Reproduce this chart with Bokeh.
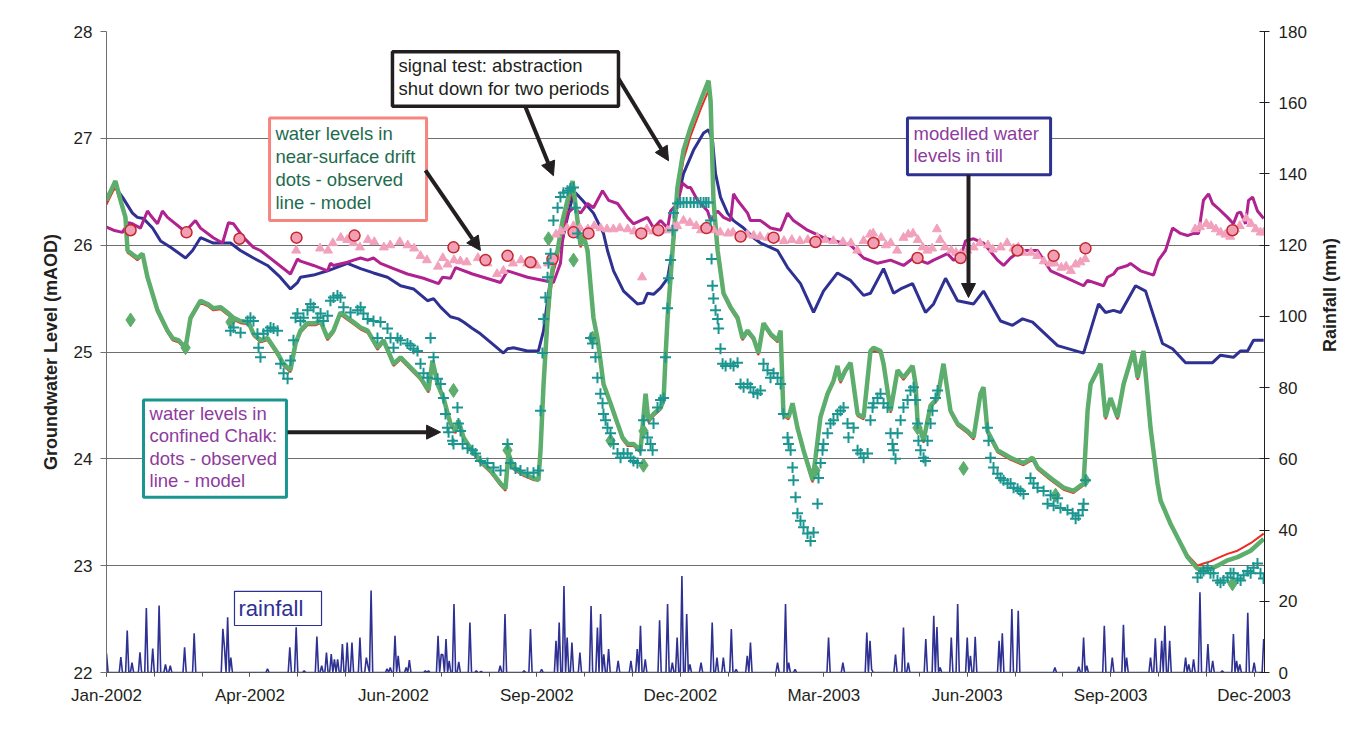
import numpy as np
from bokeh.plotting import figure
from bokeh.models import Range1d, LinearAxis, FixedTicker, Arrow, NormalHead
from bokeh.embed import file_html
from bokeh.resources import INLINE
from bokeh.core.properties import value

# ---------------- data (day = days since 1 Jan 2002) ----------------
X_TICK_LABELS = ["Jan-2002", "Apr-2002", "Jun-2002", "Sep-2002", "Dec-2002",
                 "Mar-2003", "Jun-2003", "Sep-2003", "Dec-2003"]
LEFT_TICKS = [22, 23, 24, 25, 26, 27, 28]
RIGHT_TICKS = [0, 20, 40, 60, 80, 100, 120, 140, 160, 180]

# modelled water levels in till (blue)
TILL_MODEL = [(0,26.46),(5.6,26.54),(10,26.45),(16.3,26.30),(19.4,26.26),(23.2,26.25),(28.9,26.16),(33.9,26.04),
    (40.2,25.98),(49.6,25.88),(54,25.95),(59,26.07),(67,26.02),(77.8,26.02),(84,25.95),(92.2,25.88),(101,25.81),
    (109,25.70),(115.4,25.59),(119.8,25.65),(121.7,25.70),(129.9,25.72),(138.7,25.76),(142.4,25.78),(151.2,25.83),
    (159.4,25.78),(167.5,25.74),(176.3,25.70),(184.5,25.62),(192.6,25.59),(201.4,25.48),(205.2,25.50),(209.6,25.42),
    (215.8,25.33),(220.8,25.31),(224,25.28),(229.6,25.22),(234.6,25.17),(241,25.09),(249,24.99),(251.6,25.03),
    (255.3,25.04),(264.1,25.01),(271,25.01),(274.2,25.20),(277.3,25.55),(280.4,25.83),(283,25.95),(284.8,25.98),
    (289.2,26.26),(292.4,26.45),(294.2,26.49),(298.6,26.42),(305.5,26.30),(311.8,26.11),(314.3,25.95),(318.1,25.76),
    (324.4,25.57),(333.1,25.45),(336.9,25.46),(339.4,25.55),(343.2,25.54),(347.6,25.60),(352,25.69),(353.9,25.85),
    (355.1,25.95),(358.2,26.42),(362,26.67),(368.3,26.89),(374.6,27.05),(377.7,27.08),(380.2,26.98),(382.1,26.67),
    (385.2,26.45),(389.6,26.30),(393.4,26.23),(399.7,26.16),(405.9,26.07),(410.3,26.02),(421,25.95),(427.3,25.79),
    (435.4,25.64),(443.6,25.37),(449.8,25.57),(458.6,25.74),(466.8,25.67),(475,25.53),(479.3,25.55),(487.5,25.78),
    (493.8,25.55),(498.2,25.59),(505.7,25.64),(513.8,25.37),(518.9,25.45),(526.4,25.69),(533.9,25.48),(544,25.45),
    (550.2,25.57),(560.9,25.29),(568.4,25.25),(574.7,25.31),(581,25.28),(596.7,25.06),(613,24.99),(622.4,25.45),
    (626.8,25.37),(631.8,25.39),(636.2,25.37),(645.6,25.62),(651.9,25.57),(662.5,25.08),(668.8,25.03),(677,24.90),
    (693.9,24.90),(698.9,24.97),(707,24.95),(711.5,25.01),(715.9,25.01),(719.6,25.11),(726,25.11)]

# modelled water levels in near-surface drift (magenta)
DRIFT_MODEL = [(0,26.17),(4.4,26.14),(10,26.12),(13.8,26.21),(16.3,26.20),(21.3,26.16),(25.7,26.32),(27.6,26.28),
    (32,26.20),(35.1,26.32),(38.3,26.26),(48.3,26.14),(51.4,26.16),(55.8,26.23),(59,26.16),(67,26.07),(72.8,26.02),
    (76.5,26.21),(79.7,26.20),(86,26.07),(92.2,25.98),(96.6,25.95),(115.4,25.73),(119.8,25.87),(121.7,25.85),
    (129.9,25.81),(138.7,25.76),(140.5,25.83),(142.4,25.81),(151.2,25.84),(155,25.86),(159.4,25.88),(163.8,25.86),
    (167.5,25.88),(171.9,25.83),(180.1,25.78),(188.8,25.73),(198.9,25.69),(208.3,25.64),(210.8,25.70),(215.8,25.69),
    (219,25.79),(229.6,25.73),(247.2,25.65),(251.6,25.76),(264.1,25.70),(280.4,25.65),(284.8,25.83),(286.1,26.04),
    (289.2,26.30),(293,26.35),(297.4,26.30),(301.8,26.39),(305.5,26.35),(311.2,26.51),(315,26.42),(320.6,26.39),
    (326.9,26.26),(330.6,26.20),(335,26.23),(339.4,26.26),(343.2,26.16),(347.6,26.23),(352,26.16),(353.9,26.32),
    (358.2,26.39),(361.4,26.58),(364.5,26.54),(366.4,26.54),(370.8,26.42),(377.1,26.32),(379,26.23),(383.4,26.32),
    (387.1,26.26),(391.5,26.23),(393.4,26.48),(395.9,26.42),(402.2,26.30),(404,26.23),(410.3,26.23),(416.6,26.16),
    (422.9,26.14),(427.3,26.30),(431,26.23),(439.8,26.14),(449.8,26.07),(466.8,26.00),(475,25.88),(483.7,25.83),
    (491.9,25.86),(500,25.81),(506.3,25.88),(515.1,25.83),(518.9,25.86),(527.6,25.92),(531.4,25.86),(535.8,25.88),
    (538.9,26.04),(544,26.06),(550.2,26.02),(559,25.86),(562.8,25.81),(567.2,25.88),(573.4,25.95),(584.1,25.95),
    (592.3,25.76),(602.9,25.69),(613,25.62),(615.5,25.67),(625.5,25.62),(628,25.70),(631.8,25.73),(634.3,25.78),
    (640.6,25.81),(642.4,25.83),(648.7,25.76),(656.9,25.72),(660,25.86),(664.4,25.95),(668.8,26.16),(673.8,26.11),
    (678.2,26.09),(682,26.11),(685.1,26.11),(688.2,26.42),(691.4,26.48),(693.9,26.39),(697,26.35),(703.3,26.26),
    (707,26.20),(709.6,26.30),(711.5,26.31),(714.6,26.20),(716.5,26.42),(719,26.45),(722.1,26.32),(726,26.25)]

# observed drift levels, dense (pink triangles)
DRIFT_OBS_DENSE = [(119,25.95),(134,25.97),(139,25.95),(142,26.02),(147,26.07),(151,26.05),(155,26.02),(159,25.98),
    (164,26.05),(168,26.03),(174,25.98),(178,26.00),(184,26.03),(189,26.00),(193,25.97),(197,25.90),(201,25.86),
    (208,25.80),(211,25.88),(214,25.82),(218,25.86),(222,25.85),(226,25.84),(233,25.88),(239,25.83),(245,25.73),
    (249,25.76),(255,25.83),(260,25.86),(264,25.83),(270,25.81),(277,25.83),(282,26.10),(285,26.13),(289,26.16),
    (293,26.18),(297,26.16),(302,26.15),(306,26.18),(310,26.16),(314,26.15),(318,26.15),(322,26.16),(327,26.15),
    (331,26.13),(335,26.11),(336,25.70),(339,26.15),(343,26.13),(348,26.14),(352,26.14),(356,26.17),(358,26.18),
    (362,26.23),(366,26.21),(370,26.18),(373,26.14),(377,26.15),(381,26.14),(385,26.12),(390,26.11),(393,26.12),
    (398,26.09),(402,26.10),(406,26.09),(410,26.08),(415,26.07),(420,26.06),(425,26.04),(430,26.05),(435,26.04),
    (440,26.05),(446,26.07),(451,26.05),(456,26.04),(462,26.03),(467,26.02),(471,25.95),(475,26.04),(479,26.10),
    (481,26.11),(486,26.07),(489,26.00),(492,26.02),(496,25.95),(500,26.07),(503,26.10),(506,26.11),(509,26.05),
    (512,25.98),(515,25.95),(518,25.97),(521,26.15),(523,26.05),(526,25.98),(530,25.95),(533,25.93),(536,25.92),
    (540,25.95),(544,25.98),(548,26.02),(553,26.00),(556,25.96),(561,25.98),(565,26.02),(569,25.97),(572,25.98),
    (575,25.93),(580,25.93),(584,25.90),(588,25.85),(592,25.83),(595,25.83),(599,25.79),(602,25.80),(605,25.76),
    (608,25.82),(611,25.84),(614,25.87),(683,26.15),(686,26.17),(690,26.20),(693,26.18),(696,26.15),(699,26.12),
    (702,26.10),(705,26.08),(708,26.15),(711,26.18),(715,26.25),(718,26.20),(721,26.15),(724,26.12),(726,26.12)]

# observed drift levels, sparse (circles)
DRIFT_OBS_SPARSE = [(15.1,26.14),(50.2,26.12),(83.4,26.06),(119.2,26.07),(155.6,26.09),(217.7,25.98),(237.8,25.86),
    (251.6,25.90),(266,25.84),(279.8,25.87),(293,26.12),(302.4,26.11),(335.5,26.11),(346.2,26.14),(376.4,26.16),
    (397.8,26.08),(418.5,26.07),(444.8,26.03),(481.2,26.02),(508.8,25.88),(535.8,25.88),(571.5,25.95),(594.2,25.90),
    (614.2,25.97),(706.4,26.14)]

# modelled confined Chalk levels (green, main model)
CHALK_MODEL = [(0,26.42),(5.6,26.60),(8.8,26.42),(11.9,26.26),(13.2,25.95),(19.4,25.88),(22.6,25.92),(25.7,25.70),
    (32,25.39),(38.3,25.20),(41.4,25.13),(45.2,25.11),(49.6,25.04),(52.7,25.32),(59,25.48),(63.4,25.45),(67,25.41),
    (71.5,25.42),(75.9,25.37),(79.7,25.32),(84,25.29),(89.1,25.28),(92.2,25.17),(96.6,25.11),(101,25.13),(107.3,24.99),
    (111,24.89),(115.4,24.83),(118.6,25.08),(121.7,25.20),(126.1,25.27),(131.1,25.27),(134.3,25.29),(138.7,25.13),
    (142.4,25.20),(146.8,25.37),(151.2,25.32),(155,25.28),(159.4,25.23),(163.8,25.20),(170,25.04),(173.8,25.11),
    (180.1,24.89),(184.5,24.95),(197,24.76),(202,24.64),(204.5,24.92),(207.7,24.70),(211.4,24.57),(215.8,24.33),
    (219,24.26),(220.8,24.36),(224,24.20),(228.4,24.10),(234.6,23.98),(241,23.89),(247.2,23.77),(250.3,23.72),
    (252.2,24.05),(255.3,23.92),(261.6,23.86),(267.9,23.82),(271,23.80),(272.3,24.08),(274.2,24.70),(276.7,25.32),
    (278.5,25.64),(280.4,25.83),(283,25.95),(286.1,26.23),(289.2,26.42),(292.4,26.60),(295.5,26.23),(297.4,26.00),
    (299.3,26.09),(301.8,25.95),(303.6,25.64),(305.5,25.32),(308,25.13),(309.9,24.92),(311.8,24.70),(316.2,24.52),
    (320.6,24.33),(323.7,24.20),(326.9,24.14),(330.6,24.14),(335,24.08),(338.2,24.61),(340,24.36),(343.2,24.42),
    (347.6,24.48),(349.5,24.55),(350.7,24.95),(352,25.32),(353.9,25.70),(355.1,25.95),(358.2,26.54),(362,26.89),
    (366.4,27.10),(372.7,27.35),(377.7,27.54),(379,27.35),(380.8,26.42),(383.4,25.95),(387.1,25.55),(391.5,25.42),
    (395.9,25.32),(399,25.13),(402.2,25.20),(405.9,25.13),(409,24.99),(412.2,25.27),(416.6,25.17),(421,25.11),
    (422.9,25.20),(424.7,24.42),(427.9,24.39),(430.4,24.52),(433.5,24.29),(437.3,24.08),(443,23.80),(444.8,24.01),
    (447.9,24.39),(452.4,24.61),(456.1,24.73),(458.6,24.87),(460.5,24.73),(463.6,24.83),(466.8,24.90),(471.2,24.42),
    (475,24.39),(479.3,25.01),(481.2,25.04),(485.6,25.01),(487.5,24.89),(491.9,24.45),(496.3,24.83),(500,24.76),
    (505.7,24.87),(507.6,24.70),(508.8,24.36),(512.6,24.17),(517,24.50),(521.4,24.57),(525.1,24.89),(529.5,24.45),
    (533.9,24.33),(540.2,24.26),(544,24.20),(548.3,24.61),(550.2,24.67),(552.7,24.26),(559,24.08),(567.2,24.01),
    (575.3,23.96),(581,24.01),(584.1,23.92),(592.3,23.82),(600.4,23.73),(606.7,23.70),(613,23.77),(615.5,24.45),
    (617.4,24.70),(621.8,24.83),(623.6,24.89),(626.8,24.39),(629.9,24.57),(634.3,24.39),(638.1,24.70),(644.3,25.01),
    (646.9,24.76),(650.6,25.01),(655,24.29),(659.4,23.77),(661.3,23.61),(667.6,23.39),(673.8,23.21),(678.2,23.08),
    (684.5,22.97),(688.2,22.97),(692.6,22.97),(697,23.00),(703.3,23.05),(709.6,23.08),(717.8,23.14),(726,23.25)]

# modelled confined Chalk levels (red, second model run)
CHALK_MODEL2 = [(0,26.38),(5.6,26.55),(8.8,26.40),(11.9,26.24),(13.2,25.93),(19.4,25.86),(22.6,25.90),(25.7,25.68),
    (32,25.37),(38.3,25.18),(41.4,25.11),(45.2,25.09),(49.6,25.02),(52.7,25.30),(59,25.46),(63.4,25.43),(67,25.39),
    (71.5,25.40),(75.9,25.35),(79.7,25.30),(84,25.27),(89.1,25.26),(92.2,25.15),(96.6,25.09),(101,25.11),(107.3,24.97),
    (111,24.87),(115.4,24.81),(118.6,25.06),(121.7,25.18),(126.1,25.25),(131.1,25.25),(134.3,25.27),(138.7,25.11),
    (142.4,25.18),(146.8,25.35),(151.2,25.30),(155,25.26),(159.4,25.21),(163.8,25.18),(170,25.02),(173.8,25.09),
    (180.1,24.87),(184.5,24.93),(197,24.74),(202,24.62),(204.5,24.90),(207.7,24.68),(211.4,24.55),(215.8,24.31),
    (219,24.24),(220.8,24.34),(224,24.18),(228.4,24.08),(234.6,23.96),(241,23.87),(247.2,23.75),(250.3,23.70),
    (252.2,24.03),(255.3,23.90),(261.6,23.84),(267.9,23.80),(271,23.80),(272.3,24.06),(274.2,24.62),(276.7,25.22),
    (278.5,25.55),(280.4,25.75),(283,25.88),(286.1,26.16),(289.2,26.36),(292.4,26.52),(295.5,26.20),(297.4,25.98),
    (299.3,26.06),(301.8,25.93),(303.6,25.62),(305.5,25.30),(308,25.11),(309.9,24.90),(311.8,24.68),(316.2,24.50),
    (320.6,24.31),(323.7,24.18),(326.9,24.12),(330.6,24.12),(335,24.06),(338.2,24.59),(340,24.34),(343.2,24.40),
    (347.6,24.46),(349.5,24.53),(350.7,24.90),(352,25.25),(353.9,25.62),(355.1,25.88),(358.2,26.45),(362,26.80),
    (366.4,27.02),(372.7,27.27),(377.7,27.45),(379,27.30),(380.8,26.40),(383.4,25.93),(387.1,25.53),(391.5,25.40),
    (395.9,25.30),(399,25.11),(402.2,25.18),(405.9,25.11),(409,24.97),(412.2,25.25),(416.6,25.15),(421,25.09),
    (422.9,25.18),(424.7,24.40),(427.9,24.37),(430.4,24.50),(433.5,24.27),(437.3,24.06),(443,23.78),(444.8,23.99),
    (447.9,24.37),(452.4,24.59),(456.1,24.71),(458.6,24.85),(460.5,24.71),(463.6,24.81),(466.8,24.88),(471.2,24.40),
    (475,24.37),(479.3,24.99),(481.2,25.02),(485.6,24.99),(487.5,24.87),(491.9,24.43),(496.3,24.81),(500,24.74),
    (505.7,24.85),(507.6,24.68),(508.8,24.34),(512.6,24.15),(517,24.48),(521.4,24.55),(525.1,24.87),(529.5,24.43),
    (533.9,24.31),(540.2,24.24),(544,24.18),(548.3,24.59),(550.2,24.65),(552.7,24.24),(559,24.06),(567.2,23.99),
    (575.3,23.94),(581,23.99),(584.1,23.90),(592.3,23.80),(600.4,23.71),(606.7,23.68),(613,23.75),(615.5,24.43),
    (617.4,24.68),(621.8,24.81),(623.6,24.87),(626.8,24.37),(629.9,24.55),(634.3,24.37),(638.1,24.68),(644.3,24.99),
    (646.9,24.74),(650.6,24.99),(655,24.27),(659.4,23.76),(661.3,23.61),(667.6,23.40),(673.8,23.22),(678.2,23.10),
    (684.5,23.00),(688.2,23.02),(692.6,23.04),(697,23.07),(703.3,23.11),(709.6,23.14),(717.8,23.21),(726,23.30)]

# observed confined Chalk levels, dense (teal crosses)
CHALK_OBS_DENSE = [(77.8,25.20),(79.7,25.23),(84.1,25.18),(88.5,25.29),(90.3,25.32),(92.2,25.29),(94.7,25.17),
    (95.4,25.04),(96.6,24.95),(98.5,25.17),(101,25.20),(102.9,25.23),(104.8,25.22),(107.3,25.20),(109.2,24.89),
    (111.1,24.80),(113.6,24.75),(115.4,24.92),(117.3,25.11),(118.6,25.32),(119.8,25.36),(121.7,25.29),(123.6,25.32),
    (126.1,25.39),(128,25.45),(129.9,25.42),(132.4,25.32),(134.3,25.36),(136.1,25.29),(138.7,25.34),(140.5,25.48),
    (142.4,25.51),(144.9,25.53),(146.8,25.51),(148.7,25.42),(153.1,25.37),(157.5,25.39),(159.4,25.42),(161.2,25.36),
    (163.8,25.31),(167.5,25.29),(170,25.13),(171.9,25.28),(176.3,25.22),(178.2,25.13),(180.1,25.04),(182.6,25.13),
    (184.5,25.11),(188.8,25.08),(190.7,25.06),(192.6,25.03),(195.1,25.01),(197,24.89),(198.9,24.80),(201.4,24.76),
    (203.3,25.13),(205.2,24.95),(207.7,24.75),(209.6,24.70),(211.4,24.57),(212.7,24.42),(213.9,24.29),(214.6,24.25),
    (217.1,24.17),(217.7,24.14),(220.2,24.48),(220.8,24.33),(222.1,24.26),(223.4,24.14),(226.5,24.10),(229.6,24.08),
    (231.5,24.05),(234.6,23.98),(239,23.96),(242.8,23.92),(247.2,23.89),(251.6,24.14),(253.5,23.96),(256.6,23.91),
    (259.7,23.89),(264.1,23.87),(267.9,23.87),(271,23.89),(272.3,24.45),(273.5,24.99),(274.2,25.31),(275.4,25.51),
    (276.7,25.70),(277.3,25.83),(278.6,25.92),(280.4,26.23),(283,26.35),(284.8,26.45),(286.7,26.49),(289.2,26.51),
    (291.1,26.53),(293,26.54),(294.3,26.35),(295.5,26.11),(303.7,25.13),(304.9,25.08),(306.8,24.95),(308,24.76),
    (309.9,24.61),(311.2,24.52),(311.8,24.42),(313.1,24.36),(314.3,24.29),(316.2,24.24),(318.1,24.14),(320.6,24.05),
    (322.5,24.01),(324.4,24.05),(326.9,24.05),(328.8,24.01),(330.6,23.98),(333.1,23.96),(335,24.08),(336.9,24.36),
    (339.4,24.20),(341.3,24.14),(342.6,24.08),(343.2,24.33),(345.7,24.48),(347.6,24.55),(349.5,24.57),(350.7,24.95),
    (352,25.41),(352.6,25.69),(353.9,25.86),(355.1,26.14),(355.7,26.30),(358.2,26.39),(360,26.40),(362,26.40),
    (364,26.40),(366.4,26.40),(368.5,26.40),(370.8,26.40),(372.7,26.40),(374.6,26.40),(376.2,26.40),(377.7,26.40),
    (379,26.23),(379.6,25.87),(380.2,25.62),(380.8,25.50),(382.1,25.39),(383.4,25.31),(384,25.22),(385.2,25.03),
    (386.5,24.89),(388.4,24.87),(391.5,24.89),(393.4,24.87),(395.9,24.90),(397.8,24.70),(399.7,24.67),(402.2,24.70),
    (404,24.67),(405.9,24.62),(408.4,24.61),(410.3,24.64),(412.2,24.89),(414.7,24.83),(416.6,24.76),(418.5,24.80),
    (421,24.76),(422.9,24.70),(424.7,24.42),(427.3,24.20),(427.9,24.14),(429.2,24.08),(430.4,23.92),(431,23.80),
    (432.3,23.64),(433.5,23.49),(435.4,23.42),(437.3,23.36),(439.8,23.30),(441.7,23.23),(443.6,23.31),(446.1,23.58),
    (446.7,23.82),(448,23.96),(449.2,24.08),(449.8,24.14),(452.4,24.24),(454.2,24.33),(456.1,24.36),(458.6,24.42),
    (460.5,24.45),(462.4,24.48),(464.9,24.33),(465.5,24.20),(468.7,24.29),(471.2,24.08),(473.1,24.05),(475,24.01),
    (477.5,24.05),(479.3,24.36),(480.6,24.48),(481.2,24.52),(483.7,24.57),(485.6,24.61),(487.5,24.52),(490,24.48),
    (491.9,24.24),(493.1,24.14),(493.8,24.08),(495,24.00),(496.3,24.24),(498.2,24.36),(500,24.48),(502.6,24.55),
    (504.4,24.64),(506.3,24.67),(507.6,24.55),(508.8,24.33),(509.4,24.17),(510.7,24.08),(512.6,24.01),(513.8,23.98),
    (515.1,24.17),(517,24.33),(518.2,24.45),(520.1,24.57),(521.4,24.64),(552.7,24.29),(553.4,24.17),(554.6,24.01),
    (556.5,23.92),(559,23.86),(560.9,23.82),(562.8,23.80),(565.3,23.77),(567.2,23.77),(569.1,23.73),(571.6,23.72),
    (573.4,23.70),(575.3,23.67),(579.7,23.82),(581.6,23.77),(584.1,23.73),(587.9,23.70),(590.4,23.58),(592.3,23.66),
    (594.2,23.56),(596.7,23.63),(598.5,23.54),(602.9,23.52),(606.1,23.49),(608,23.44),(609.8,23.47),(612.4,23.52),
    (613,23.58),(614.2,23.80),(684.5,22.89),(686.4,22.93),(688.2,22.95),(690.8,22.98),(692.6,22.93),(694.5,22.93),
    (697,22.86),(698.9,22.84),(700.8,22.86),(703.3,22.89),(705.2,22.93),(707.1,22.93),(709.6,22.88),(711.5,22.86),
    (713.4,22.91),(715.9,22.95),(717.8,22.93),(719.6,22.98),(722.1,23.02),(724,22.93),(725.9,22.88)]

# observed confined Chalk levels, sparse (green diamonds)
CHALK_OBS_SPARSE = [(15.1,25.30),(49.6,25.04),(77.8,25.28),(217.7,24.64),(251.6,24.08),(277.3,26.06),(293,25.86),
    (304.9,25.13),(316.2,24.17),(336.9,24.26),(336.9,23.94),(444.8,23.89),(508.8,24.29),(537.7,23.91),(595.4,23.66),
    (614.2,23.80),(706.4,22.83)]

# daily rainfall (mm); days not listed had no rain
RAINFALL = [(0,5.3),(9,4.3),(13,11.8),(16,2.8),(21,5.7),(25,18.1),(29,6.7),(33,18.8),(37,2.3),(40,1.9),(49,7.1),
    (55,11.0),(73,12.3),(74,7.1),(76,15.5),(78,4.2),(101,1.0),(115,7.1),(119,12.7),(124,0.5),(132,10.1),(135,1.9),
    (138,5.6),(141,5.2),(143,3.7),(145,3.7),(148,8.0),(151,8.4),(154,8.4),(159,9.8),(163,4.2),(164,1.9),(166,23.0),
    (176,1.0),(178,1.4),(181,10.3),(183,4.7),(188,1.4),(190,3.5),(200,0.5),(202,0.5),(208,10.3),(210,5.1),(211,5.0),
    (213,9.4),(215,3.3),(218,19.2),(221,3.0),(228,14.0),(232,0.5),(235,0.3),(247,1.9),(250,16.4),(262,0.5),(266,12.2),
    (273,0.9),(282,8.9),(284,14.0),(287,24.3),(289,9.8),(292,8.4),(297,5.6),(304,18.7),(308,12.6),(310,16.4),(312,5.1),
    (315,6.6),(321,3.3),(329,3.3),(333,6.6),(335,13.1),(338,3.7),(347,14.7),(352,19.2),(355,2.8),(358,9.8),(361,27.1),
    (364,16.4),(366,2.3),(373,2.8),(380,14.0),(383,4.2),(387,4.2),(392,12.2),(395,0.9),(402,4.7),(404,8.4),(421,2.8),
    (426,19.2),(428,2.8),(432,0.9),(453,9.8),(462,2.8),(477,11.2),(479,8.9),(480,0.9),(495,5.0),(500,12.6),(503,2.8),
    (514,9.4),(519,15.9),(521,12.8),(523,1.4),(530,9.8),(534,19.2),(540,9.8),(542,4.7),(545,10.0),(560,8.9),(562,11.0),
    (568,17.8),(572,17.3),(595,1.4),(610,1.6),(613,9.8),(615,1.9),(626,13.1),(631,4.2),(638,13.4),(640,4.2),(655,4.2),
    (658,9.6),(662,8.9),(664,13.1),(667,8.9),(677,4.2),(679,2.3),(682,3.7),(686,22.5),(691,8.0),(694,3.3),(700,0.5),
    (707,10.8),(709,3.3),(711,2.3),(716,16.8),(720,2.8),(726,9.4)]
N_DAYS = 727

# ---------------- styling ----------------
FONT = "Liberation Sans"
C_TILL = "#2E3192"
C_DRIFT = "#B0228F"
C_TRI = "#F2A1BD"
C_GREEN = "#5DAE6C"
C_RED = "#EE2A24"
C_TEAL = "#1B9590"
C_RAIN = "#2E3192"
C_ARROW = "#231F20"


def split(pairs):
    return [a for a, _ in pairs], [b for _, b in pairs]


p = figure(width=1357, height=726, x_range=Range1d(0, 726.5), y_range=Range1d(22, 28),
           output_backend="svg", toolbar_location=None,
           min_border_left=106, min_border_right=93, min_border_top=31, min_border_bottom=54)
p.outline_line_color = None
p.extra_y_ranges = {"rain": Range1d(0, 180)}
p.xgrid.visible = False
p.ygrid.ticker = FixedTicker(ticks=LEFT_TICKS)
p.ygrid.grid_line_color = "#6f6f6f"
p.ygrid.grid_line_width = 1.2

# x axis
xa = p.xaxis[0]
xa.ticker = FixedTicker(ticks=[90 * i for i in range(len(X_TICK_LABELS))],
                        minor_ticks=[30 * i for i in range(25)])
xa.major_label_overrides = {90 * i: lab for i, lab in enumerate(X_TICK_LABELS)}
xa.major_label_text_font = FONT
xa.major_label_text_font_size = "17px"
xa.major_label_text_color = "#231F20"
xa.axis_line_color = "#555555"
xa.major_tick_in = 0
xa.major_tick_out = 4
xa.minor_tick_in = 0
xa.minor_tick_out = 4
xa.major_tick_line_color = "#555555"
xa.minor_tick_line_color = "#555555"
xa.major_label_standoff = 9

# left axis
ya = p.yaxis[0]
ya.ticker = FixedTicker(ticks=LEFT_TICKS)
ya.axis_label = "Groundwater Level (mAOD)"
ya.axis_label_text_font = FONT
ya.axis_label_text_font_style = "bold"
ya.axis_label_text_font_size = "18px"
ya.axis_label_text_color = "#231F20"
ya.axis_label_standoff = 10
ya.major_label_text_font = FONT
ya.major_label_text_font_size = "17px"
ya.major_label_text_color = "#231F20"
ya.major_label_standoff = 8
ya.major_tick_in = 0
ya.major_tick_out = 6
ya.minor_tick_line_color = None
ya.axis_line_color = "#6f6f6f"
ya.major_tick_line_color = "#6f6f6f"

# right axis
ra = LinearAxis(y_range_name="rain", ticker=FixedTicker(ticks=RIGHT_TICKS),
                axis_label="Rainfall (mm)")
ra.axis_label_text_font = FONT
ra.axis_label_text_font_style = "bold"
ra.axis_label_text_font_size = "18px"
ra.axis_label_text_color = "#231F20"
ra.axis_label_standoff = 20
ra.major_label_text_font = FONT
ra.major_label_text_font_size = "17px"
ra.major_label_text_color = "#231F20"
ra.major_label_standoff = 9
ra.major_tick_in = 5
ra.major_tick_out = 5
ra.minor_tick_line_color = None
ra.axis_line_color = "#231F20"
ra.major_tick_line_color = "#231F20"
if "axis_label_orientation" in ra.properties():
    ra.axis_label_orientation = np.pi / 2
p.add_layout(ra, "right")

# rainfall (daily)
rain = np.zeros(N_DAYS)
for d, mm in RAINFALL:
    rain[int(d)] = mm
p.line(np.arange(N_DAYS), rain, y_range_name="rain", line_color=C_RAIN, line_width=1.6)

# model lines
x, y = split(TILL_MODEL)
p.line(x, y, line_color=C_TILL, line_width=3)
x, y = split(DRIFT_MODEL)
p.line(x, y, line_color=C_DRIFT, line_width=3)
x, y = split(CHALK_MODEL2)
p.line(x, y, line_color=C_RED, line_width=2)
x, y = split(CHALK_MODEL)
p.line(x, y, line_color=C_GREEN, line_width=4.5)

# observations
x, y = split(DRIFT_OBS_DENSE)
p.scatter(x, y, marker="triangle", size=9, fill_color=C_TRI, line_color=C_TRI)
x, y = split(DRIFT_OBS_SPARSE)
p.scatter(x, y, marker="circle", size=11, fill_color="#F29FB6", line_color="#C0282D", line_width=1.5)
x, y = split(CHALK_OBS_SPARSE)
p.scatter(x, y, marker="diamond", size=14, fill_color=C_GREEN, line_color=C_GREEN)
x, y = split(CHALK_OBS_DENSE)
p.scatter(x, y, marker="cross", size=11, line_color=C_TEAL, line_width=2)

# annotation boxes (quads) and text
boxes = [
    (179.4, 321.2, 27.81, 27.30, C_ARROW, 3.5),
    (102.3, 200.8, 27.19, 26.23, "#F4867F", 3),
    (502.5, 592.3, 27.19, 26.66, C_TILL, 3),
    (23.2, 112.9, 24.55, 23.64, C_TEAL, 3),
    (80.3, 134.9, 22.76, 22.44, C_TILL, 1.2),
]
for l, r, t, b, col, w in boxes:
    p.quad(left=[l], right=[r], top=[t], bottom=[b], fill_color="white",
           line_color=col, line_width=w)

texts = [
    (183.2, [27.68, 27.47], ["signal test: abstraction", "shut down for two periods"], "#231F20", "18.5px"),
    (106.0, [27.045, 26.83, 26.61, 26.40],
     ["water levels in", "near-surface drift", "dots - observed", "line - model"], "#1E6B4E", "18.5px"),
    (506.3, [27.045, 26.84], ["modelled water", "levels in till"], "#8E3B9E", "18.5px"),
    (27.0, [24.42, 24.215, 24.00, 23.80],
     ["water levels in", "confined Chalk:", "dots - observed", "line - model"], "#8E3B9E", "18.5px"),
    (82.8, [22.60], ["rainfall"], C_TILL, "22px"),
]
for tx, tys, lines, col, fs in texts:
    p.text(x=[tx] * len(tys), y=tys, text=lines, text_font=value(FONT), text_font_size=fs,
           text_color=col, text_align="left", text_baseline="middle")

# arrows
arrows = [
    (262.9, 27.29, 280.4, 26.65),
    (321.2, 27.56, 352.6, 26.79),
    (200.1, 26.70, 234.6, 25.95),
    (540.8, 26.66, 540.8, 25.51),
    (113.6, 24.25, 209.6, 24.25),
]
for xs, ys, xe, ye in arrows:
    p.add_layout(Arrow(end=NormalHead(size=14, fill_color=C_ARROW, line_color=C_ARROW),
                       x_start=xs, y_start=ys, x_end=xe, y_end=ye,
                       line_color=C_ARROW, line_width=4))

open("out.html", "w").write(file_html(p, INLINE))
